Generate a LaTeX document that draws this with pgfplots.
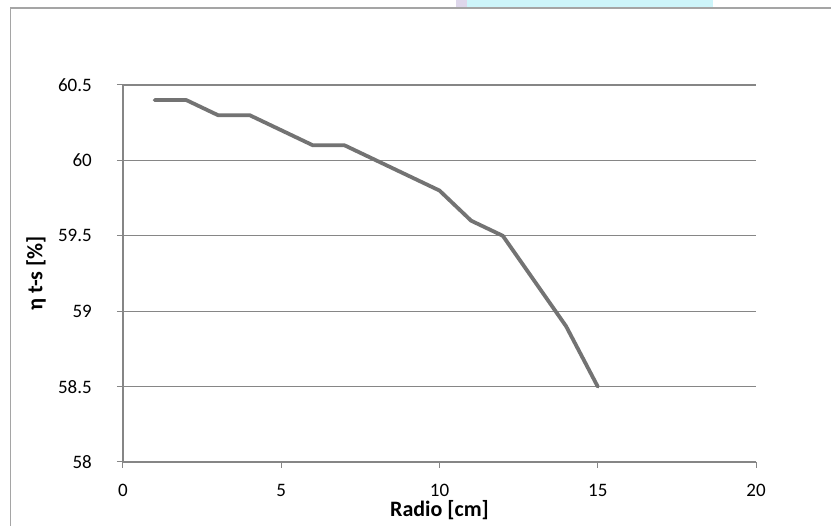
\documentclass[border=0pt]{standalone}
\usepackage{fontspec}
\setmainfont{Carlito}
\usepackage{pgfplots}
\pgfplotsset{compat=1.18}
\definecolor{gridc}{RGB}{134,134,134}
\definecolor{linec}{RGB}{115,115,115}
\definecolor{framec}{RGB}{165,165,165}
\definecolor{wmark}{RGB}{205,245,250}
\definecolor{wlav}{RGB}{222,215,235}
\begin{document}
\begin{tikzpicture}[x=1pt,y=1pt]
\useasboundingbox (0,0) rectangle (831,526);
\fill[white] (0,0) rectangle (831,526);
\fill[wmark] (457,518) rectangle (713,526);
\fill[wlav] (456,518) rectangle (467,526);
\draw[framec, line width=1.6pt] (10.5,0) -- (10.5,518) -- (831,518);
\begin{axis}[
  at={(123pt,64pt)}, anchor=south west,
  scale only axis, width=633pt, height=377pt,
  xmin=0, xmax=20, ymin=58, ymax=60.5,
  xtick={0,5,10,15,20},
  ytick={58,58.5,59,59.5,60,60.5},
  yticklabels={58,58.5,59,59.5,60,60.5},
  xticklabels={0,5,10,15,20},
  axis x line*=bottom, axis y line*=left,
  axis line style={gridc, line width=1.2pt, -},
  tick align=outside, major tick length=6pt,
  tick style={gridc, line width=1pt},
  ymajorgrids, grid style={gridc, line width=1.2pt},
  tick label style={font=\fontsize{19}{22}\selectfont, text=black},
  yticklabel style={anchor=east, inner sep=0pt, xshift=-25pt},
  xticklabel style={anchor=north, inner sep=0pt, yshift=-16pt},
  xlabel={Radio [cm]},
  ylabel={η t-s [\%]},
  label style={font=\bfseries\fontsize{22}{24}\selectfont},
  xlabel style={at={(axis description cs:0.5,0)}, anchor=center, yshift=-48pt},
  ylabel style={at={(axis description cs:0,0.5)}, anchor=center, yshift=87pt},
  clip=false,
]
\addplot[linec, line width=3.8pt, line join=round, line cap=round] coordinates {
(1,60.4) (2,60.4) (3,60.3) (4,60.3) (5,60.2) (6,60.1) (7,60.1) (8,60.0)
(9,59.9) (10,59.8) (11,59.6) (12,59.5) (13,59.2) (14,58.9) (15,58.5)
};
\end{axis}
\end{tikzpicture}
\end{document}
